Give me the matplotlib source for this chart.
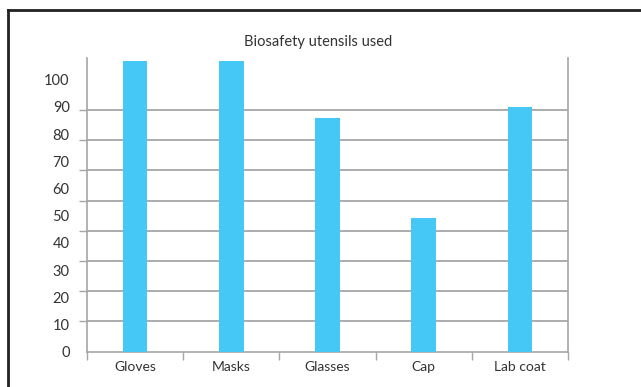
import matplotlib
matplotlib.use("Agg")
import matplotlib.pyplot as plt
import numpy as np
from matplotlib.lines import Line2D

categories = ["Gloves", "Masks", "Glasses", "Cap", "Lab coat"]
values = [107, 107, 86, 49, 90]
ytick_values = [0, 10, 20, 30, 40, 50, 60, 70, 80, 90, 100]
title = "Biosafety utensils used"

plt.rcParams['font.family'] = ['Lato', 'DejaVu Sans']

W, H = 641, 387
fig = plt.figure(figsize=(W/100, H/100), dpi=100)
ax = fig.add_axes([87/W, 1 - 351.7/H, (568-87)/W, (351.7-58)/H])

grid_c = "#a6a6a6"
text_c = "#333333"
bar_c = "#45c8f5"

x = np.arange(len(categories))
ax.bar(x, values, width=0.255, color=bar_c, zorder=3)

ax.set_xlim(-0.5, len(categories) - 0.5)
ax.set_ylim(0, 108)

# labels (11) and gridlines (10) are spaced differently in the reference
ax.set_yticks(ytick_values)
ax.set_yticklabels([str(v) for v in ytick_values])
ax.set_yticks(np.linspace(0, 100, 10), minor=True)
ax.grid(True, which="minor", axis="y", color=grid_c, linewidth=1.3, zorder=0)
ax.grid(False, which="major")
ax.tick_params(axis="y", which="major", length=0, pad=12.5, labelsize=10.5, labelcolor=text_c)
ax.tick_params(axis="y", which="minor", length=5.8, width=1.0, color=grid_c, direction="out")

ax.set_xticks(x)
ax.set_xticklabels(categories)
ax.set_xticks(np.arange(-0.5, len(categories)), minor=True)
ax.tick_params(axis="x", which="major", length=0, pad=7, labelsize=10, labelcolor=text_c)
ax.tick_params(axis="x", which="minor", length=5.8, width=1.0, color=grid_c, direction="out")

for s in ["left", "right", "bottom"]:
    ax.spines[s].set_color(grid_c)
    ax.spines[s].set_linewidth(1.2)
ax.spines["top"].set_visible(False)

fig.text(318/W, 1 - 42/H, title, ha="center", va="center", fontsize=10.5, color=text_c)

# partial outer frame
fig.add_artist(Line2D([8/W, 8/W], [1 - 10/H, -0.05], transform=fig.transFigure,
                      color="#222222", linewidth=2))
fig.add_artist(Line2D([8/W, 1.05], [1 - 10/H, 1 - 10/H], transform=fig.transFigure,
                      color="#222222", linewidth=2))

fig.savefig("out.png", dpi=100)
